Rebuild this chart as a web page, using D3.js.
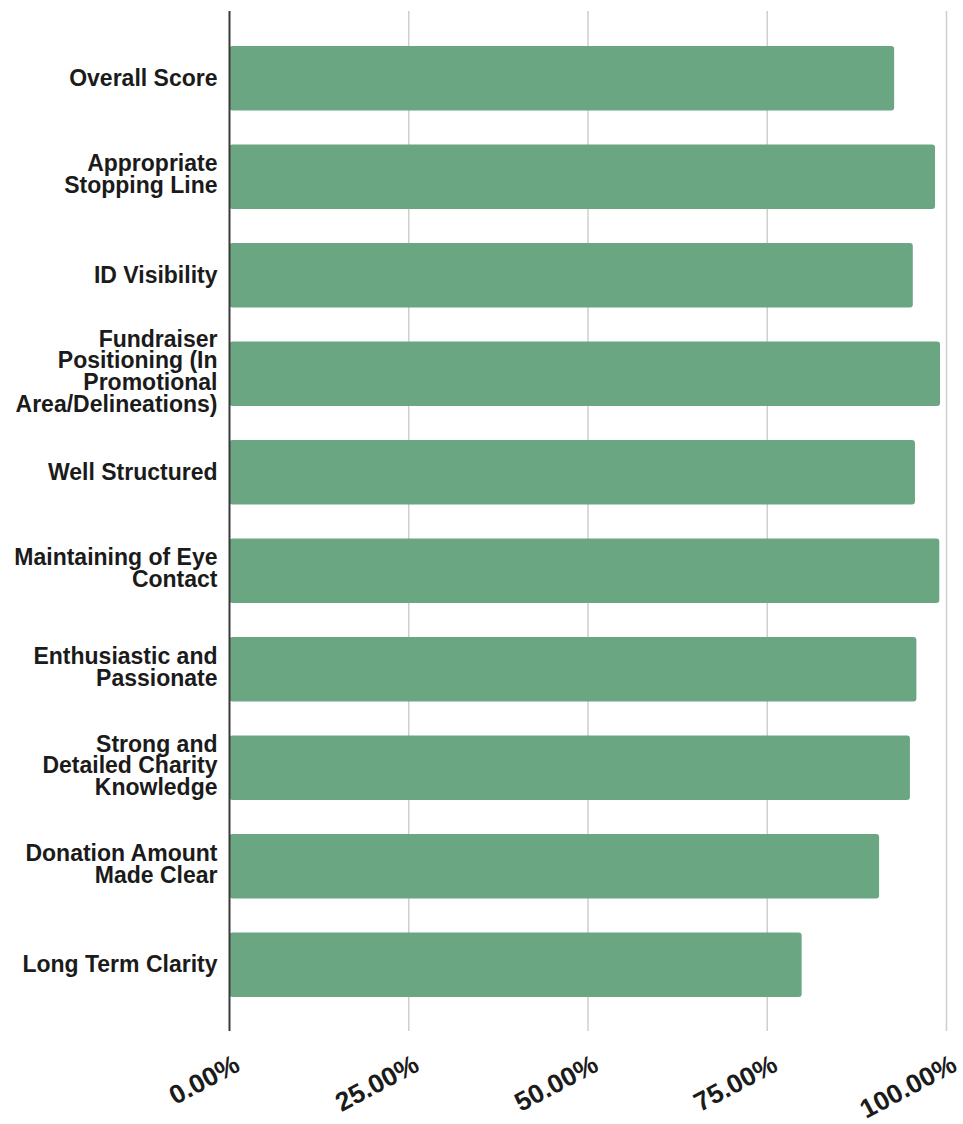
<!DOCTYPE html>
<html>
<head>
<meta charset="utf-8">
<script src="https://cdn.jsdelivr.net/npm/d3@7"></script>
<style>
  html, body { margin: 0; padding: 0; background: #fff; }
  svg { display: block; }
  text { font-family: "Liberation Sans", Arial, sans-serif; font-weight: bold; fill: #1b1b1b; }
</style>
</head>
<body>
<svg id="chart" width="963" height="1124"></svg>
<script>
// Category labels (line breaks mark where each label wraps)
const categories = [
  "Overall Score",
  "Appropriate\nStopping Line",
  "ID Visibility",
  "Fundraiser\nPositioning (In\nPromotional\nArea/Delineations)",
  "Well Structured",
  "Maintaining of Eye\nContact",
  "Enthusiastic and\nPassionate",
  "Strong and\nDetailed Charity\nKnowledge",
  "Donation Amount\nMade Clear",
  "Long Term Clarity"
];

// Share of assessments meeting each criterion (fraction of 1)
const scores = [0.927, 0.984, 0.953, 0.991, 0.956, 0.990, 0.958, 0.949, 0.906, 0.798];

// X axis ticks
const tickValues = [0, 0.25, 0.5, 0.75, 1];
const tickLabels = ["0.00%", "25.00%", "50.00%", "75.00%", "100.00%"];

const svg = d3.select("#chart");

const x = d3.scaleLinear().domain([0, 1]).range([229.5, 946.5]);
const y = d3.scaleBand()
  .domain(categories)
  .range([29, 1014])
  .paddingInner(0.345)
  .paddingOuter(0.1725);

const gridTop = 11, gridBottom = 1031;

// vertical gridlines
svg.append("g")
  .selectAll("line")
  .data(tickValues.slice(1))
  .join("line")
  .attr("x1", d => x(d)).attr("x2", d => x(d))
  .attr("y1", gridTop).attr("y2", gridBottom)
  .attr("stroke", "#cfcfcf")
  .attr("stroke-width", 1.5);

// bars
svg.append("g")
  .selectAll("rect")
  .data(categories)
  .join("rect")
  .attr("x", x(0))
  .attr("y", d => y(d))
  .attr("width", (d, i) => x(scores[i]) - x(0))
  .attr("height", y.bandwidth())
  .attr("rx", 3)
  .attr("fill", "#6ba683");

// zero baseline
svg.append("line")
  .attr("x1", x(0)).attr("x2", x(0))
  .attr("y1", gridTop).attr("y2", gridBottom)
  .attr("stroke", "#3a3a3a")
  .attr("stroke-width", 2);

// category labels, right-aligned beside the baseline
const lineH = 21.7;
const labels = svg.append("g")
  .selectAll("text")
  .data(categories)
  .join("text")
  .attr("text-anchor", "end")
  .style("font-size", "23px");

labels.each(function(d) {
  const lines = d.split("\n");
  const cy = y(d) + y.bandwidth() / 2;
  const n = lines.length;
  d3.select(this).selectAll("tspan")
    .data(lines)
    .join("tspan")
    .attr("x", x(0) - 12)
    .attr("y", (l, i) => cy + (n === 1 ? 7.5 : 5.5) + (i - (n - 1) / 2) * lineH)
    .text(l => l);
});

// rotated x tick labels
svg.append("g")
  .selectAll("text")
  .data(tickValues)
  .join("text")
  .attr("text-anchor", "end")
  .style("font-size", "26.5px")
  .attr("transform", d => `translate(${x(d) + 12},1070) rotate(-28)`)
  .text((d, i) => tickLabels[i]);
</script>
</body>
</html>
